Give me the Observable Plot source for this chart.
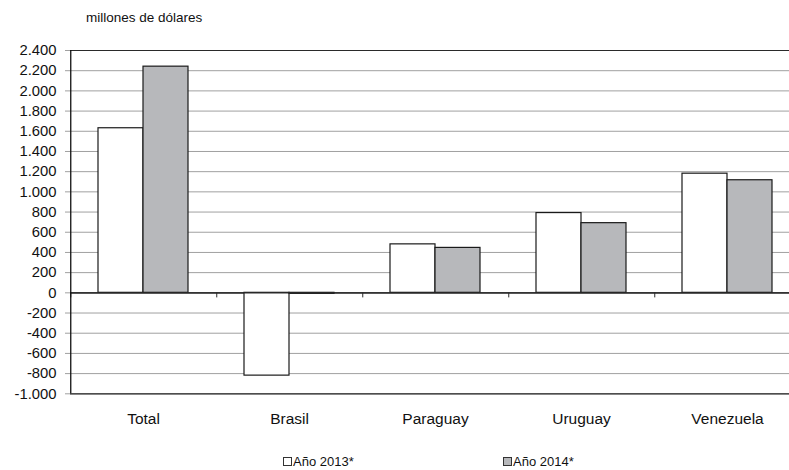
<!DOCTYPE html>
<html><head><meta charset="utf-8">
<script src="https://cdn.jsdelivr.net/npm/d3@7"></script>
<script src="https://cdn.jsdelivr.net/npm/@observablehq/plot@0.6"></script>
<style>
body{margin:0;overflow:hidden;background:#fff;font-family:"Liberation Sans",Arial,sans-serif;}
#wrap{position:relative;width:789px;height:470px;overflow:hidden;}
#chart{position:absolute;left:0;top:0;width:801px;}
#chart svg{max-width:none !important;}
#title{position:absolute;left:86px;top:10px;font-size:13.5px;line-height:16px;color:#111;white-space:nowrap;}
.leg{position:absolute;top:454px;height:15px;line-height:15px;font-size:13px;color:#111;white-space:nowrap;display:flex;align-items:center;}
.sw{display:inline-block;width:7px;height:7px;border:1px solid #333;margin-right:1px;}
</style></head><body>
<div id="wrap"><div id="chart"></div><div id="title">millones de dólares</div><div id="legend"></div></div>
<script>
const categories = ["Total", "Brasil", "Paraguay", "Uruguay", "Venezuela"];
const years = ["Año 2013*", "Año 2014*"];
const values2013 = [1630, -820, 480, 790, 1180];
const values2014 = [2240, -10, 445, 690, 1115];
const yTicks = [-1000, -800, -600, -400, -200, 0, 200, 400, 600, 800, 1000, 1200, 1400, 1600, 1800, 2000, 2200, 2400];
const colors = ["#ffffff", "#b7b8bb"];

const data = [];
categories.forEach((c, i) => {
  data.push({cat: c, year: years[0], value: values2013[i]});
  data.push({cat: c, year: years[1], value: values2014[i]});
});

const W = 801, ML = 68, MR = 0, PO = 0.59;
const facetW = (W - ML - MR) / categories.length;
const step = facetW / (2 + 2 * PO);
const sepDx = -(PO * step + step / 2);
const fmt = d3.formatLocale({decimal: ",", thousands: ".", grouping: [3], currency: ["", ""], minus: "-"}).format(",");

const chart = Plot.plot({
  width: W, height: 470,
  marginLeft: ML, marginRight: MR, marginTop: 50, marginBottom: 76.7,
  style: {fontFamily: "'Liberation Sans', Arial, sans-serif", color: "#111", background: "transparent", maxWidth: "none"},
  fx: {domain: categories, padding: 0},
  x: {domain: years, paddingInner: 0, paddingOuter: PO, axis: null},
  y: {domain: [-1000, 2400], label: null, axis: null},
  color: {domain: years, range: colors},
  marks: [
    Plot.ruleY(yTicks, {stroke: "#a0a0a0", strokeWidth: 1}),
    Plot.ruleY([yTicks[0], yTicks[yTicks.length - 1], 0], {stroke: "#2a2a2a", strokeWidth: 1.2}),
    Plot.barY(data, {fx: "cat", x: "year", y: "value", fill: "year", stroke: "#1a1a1a", strokeWidth: 1.2}),
    Plot.ruleY([0], {stroke: "#2a2a2a", strokeWidth: 1.2}),
    Plot.ruleX(categories, {fx: d => d, x: () => years[0], y1: 0, y2: -50, dx: sepDx, stroke: "#2a2a2a", strokeWidth: 1}),
    Plot.ruleX([categories[0]], {fx: d => d, x: () => years[0], y1: yTicks[0], y2: yTicks[yTicks.length - 1], dx: sepDx, stroke: "#111", strokeWidth: 1.3}),
    Plot.axisY({ticks: yTicks, tickSize: 5, tickPadding: 9, tickFormat: fmt, stroke: "#a0a0a0", fontSize: 14.8, label: null}),
    Plot.axisFx({anchor: "bottom", tickSize: 0, tickPadding: 19, fontSize: 15.5, label: null})
  ]
});
document.getElementById("chart").appendChild(chart);

const legend = document.getElementById("legend");
const legLeft = [283, 503];
years.forEach((y, i) => {
  const d = document.createElement("div");
  d.className = "leg";
  d.style.left = legLeft[i] + "px";
  d.innerHTML = `<span class="sw" style="background:${colors[i]}"></span>${y}`;
  legend.appendChild(d);
});
</script>
</body></html>
